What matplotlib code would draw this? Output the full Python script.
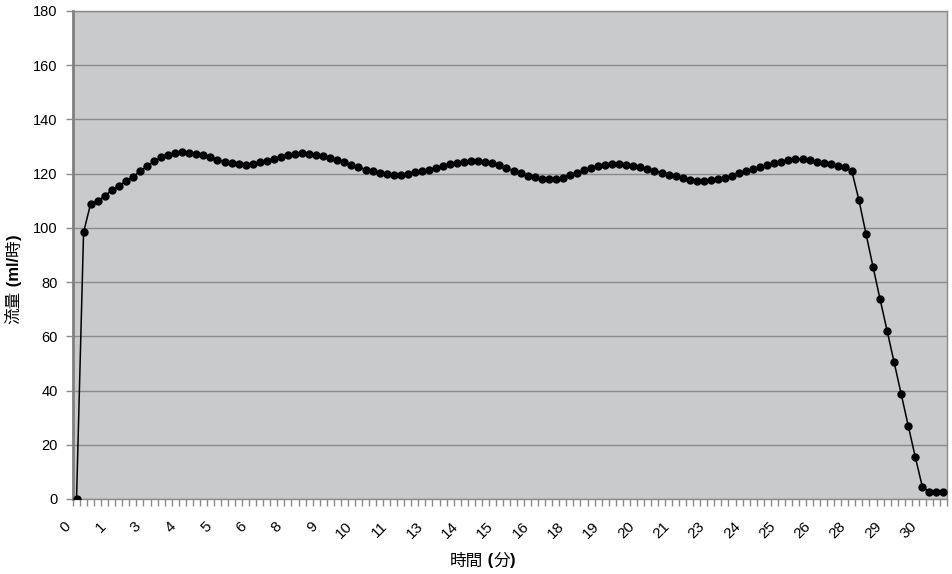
import numpy as np
import matplotlib
matplotlib.use("Agg")
import matplotlib.pyplot as plt
from matplotlib.transforms import ScaledTranslation

# flow readings, one every 0.25 min (category axis)
flow = [0, 98.4, 108.9, 109.9, 111.8, 113.9, 115.6, 117.2, 118.8, 120.9,
        122.7, 124.6, 126.0, 127.0, 127.7, 127.9, 127.7, 127.3, 126.8, 126.0,
        125.2, 124.4, 123.8, 123.4, 123.3, 123.6, 124.2, 124.8, 125.5, 126.3,
        126.9, 127.4, 127.5, 127.4, 126.9, 126.4, 125.7, 124.9, 124.2, 123.3,
        122.5, 121.5, 120.9, 120.2, 119.9, 119.6, 119.6, 120.0, 120.5, 121.0,
        121.5, 122.2, 122.8, 123.4, 123.9, 124.3, 124.6, 124.7, 124.4, 123.9,
        123.1, 122.1, 121.1, 120.1, 119.3, 118.7, 118.2, 117.9, 118.0, 118.4,
        119.5, 120.2, 121.2, 122.1, 122.9, 123.3, 123.6, 123.4, 123.2, 122.9,
        122.6, 121.8, 121.1, 120.4, 119.6, 119.0, 118.3, 117.8, 117.4, 117.3,
        117.6, 117.9, 118.5, 119.3, 120.1, 121.0, 121.7, 122.5, 123.2, 123.8,
        124.4, 124.9, 125.3, 125.3, 124.9, 124.4, 123.9, 123.4, 122.9, 122.5,
        120.9, 110.3, 97.9, 85.7, 73.7, 62.1, 50.4, 38.7, 27.0, 15.5,
        4.5, 2.5, 2.5, 2.5]

# labels shown every 5th category (minutes, rounded)
tick_labels = ["0", "1", "3", "4", "5", "6", "8", "9", "10", "11", "13", "14",
               "15", "16", "18", "19", "20", "21", "23", "24", "25", "26",
               "28", "29", "30"]

# axis titles: (text, bold?) pieces -- latin bold, CJK regular
xlabel_parts = [("時間", False), (" (", True), ("分", False), (")", True)]
ylabel_parts = [("流量", False), (" (ml/", True), ("時", False), (")", True)]

plt.rcParams["font.family"] = ["Liberation Sans", "Noto Sans CJK JP"]

x = np.arange(len(flow))

W, H = 953, 574
fig = plt.figure(figsize=(W / 100, H / 100), dpi=100)
ax = fig.add_axes([73 / W, 1 - 499 / H, 874 / W, 488 / H])
ax.set_facecolor("#c9cacc")

ax.plot(x, flow, color="black", linewidth=1.1, marker="o", markersize=5,
        markerfacecolor="black", markeredgecolor="black", zorder=3)

ax.set_xlim(-0.5, len(flow) - 0.5)
ax.set_ylim(0, 180)
ax.set_yticks(range(0, 181, 20))
ax.yaxis.grid(True, color="#8a8a8a", linewidth=1)
ax.set_axisbelow(True)

ax.set_xticks(x[::5])
ax.set_xticklabels(tick_labels, rotation=45, ha="right", va="center",
                   rotation_mode="anchor")
ax.set_xticks(np.arange(-0.5, len(flow), 1), minor=True)
ax.tick_params(axis="x", which="major", length=0, pad=18, labelsize=11)
ax.tick_params(axis="x", which="minor", length=5, color="#8a8a8a", width=1)
ax.tick_params(axis="y", length=5, color="#8a8a8a", width=1, labelsize=10.5, pad=6)

# nudge the slanted labels a little to the left, as in the source chart
shift = ScaledTranslation(-8 / 100, 0, fig.dpi_scale_trans)
for lab in ax.get_xticklabels():
    lab.set_transform(lab.get_transform() + shift)

for side in ["top", "right", "bottom"]:
    ax.spines[side].set_color("#8a8a8a")
    ax.spines[side].set_linewidth(1)
ax.spines["left"].set_color("#808080")
ax.spines["left"].set_linewidth(2)

renderer = fig.canvas.get_renderer()


def mixed_label(parts, cx, cy, vertical=False, size=12):
    # measure each piece, then lay them out end to end
    widths = []
    for s, b in parts:
        t = fig.text(0, 0, s, fontsize=size, fontweight="bold" if b else "normal")
        widths.append(t.get_window_extent(renderer).width)
        t.remove()
    pos = -sum(widths) / 2
    for (s, b), w in zip(parts, widths):
        px, py = (cx, cy + pos) if vertical else (cx + pos, cy)
        fig.text(px / W, py / H, s, fontsize=size,
                 fontweight="bold" if b else "normal",
                 rotation=90 if vertical else 0, rotation_mode="anchor",
                 ha="left", va="center")
        pos += w


# pixel centres measured from the top-left; convert y to bottom-origin
mixed_label(xlabel_parts, 483, H - 561)
mixed_label(ylabel_parts, 14, H - 279, vertical=True)

plt.savefig("out.png", dpi=100)
